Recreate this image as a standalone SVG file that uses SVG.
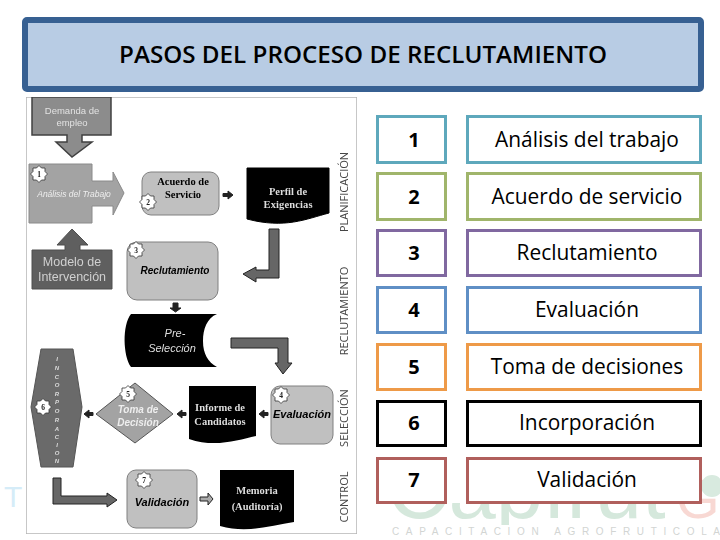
<svg xmlns="http://www.w3.org/2000/svg" width="720" height="540" viewBox="0 0 720 540">
<style>
.s{font-family:"Open Sans","Noto Sans",sans-serif;font-size:20.900px;fill:#000;text-anchor:middle}
.n{font-weight:700;font-size:20px}
.b{fill:#fff;stroke-width:3}
.g{fill:#c0c0c0;stroke:#808080;stroke-width:1}
.d{fill:#8c8c8c;stroke:#404040;stroke-width:1.500}
.m{fill:#5f5f5f;stroke:#505050;stroke-width:1}
.k{fill:#000}
.st{fill:#fff;stroke:#333;stroke-width:.8;stroke-linejoin:round}
.l{font-family:"Liberation Sans",sans-serif;text-anchor:middle}
.t{font-family:"Liberation Serif",serif;font-weight:700;text-anchor:middle;font-size:10.500px}
.v{font-family:"Open Sans",sans-serif;font-size:11px;fill:#444;text-anchor:middle}
.num{font-family:"Liberation Serif",serif;font-weight:700;font-size:7.500px;text-anchor:middle;fill:#222}
</style>
<defs>
<path id="star" d="M8.500 0L6 2.500 6 6 2.500 6 0 8.500-2.500 6-6 6-6 2.500-8.500 0-6-2.500-6-6-2.500-6 0-8.500 2.500-6 6-6 6-2.500Z"/>
<clipPath id="wm"><rect x="370" y="503" width="310" height="22"/></clipPath>
<filter id="soft" x="0" y="0" width="1" height="1"><feGaussianBlur stdDeviation="0.350"/></filter>
</defs>
<rect width="720" height="540" fill="#fff"/>
<g id="watermark">
<text x="4" y="507" font-family="Liberation Sans,sans-serif" font-size="30" fill="#d5ecf8">T</text>
<text x="387" y="518" font-family="Liberation Sans,sans-serif" font-size="85" fill="#d5e8dc" clip-path="url(#wm)">Capfrut</text>
<text x="676" y="518" font-family="Liberation Sans,sans-serif" font-size="56" fill="#f8d8d3">G</text>
<ellipse cx="712" cy="486" rx="11" ry="11" fill="#d8eadf"/>
<text x="392" y="535" font-family="Liberation Sans,sans-serif" font-size="10" textLength="328" fill="#d2d5d3">CAPACITACION AGROFRUTICOLA</text>
</g>
<g id="title">
<rect x="25" y="20" width="676" height="69" rx="2" fill="#b8cce4" stroke="#376092" stroke-width="6"/>
<text x="363" y="63" font-family="Open Sans,sans-serif" font-weight="600" font-size="23.500" text-anchor="middle" textLength="488" lengthAdjust="spacingAndGlyphs">PASOS DEL PROCESO DE RECLUTAMIENTO</text>
</g>
<g id="flowchart" filter="url(#soft)">
<rect x="26" y="97" width="331" height="437" fill="#fff" stroke="#b5b5b5" stroke-width="1.500"/>
<g id="demanda"><path class="d" d="M32 97H111V135H82V142H92L72 157 56 142H67V135H32Z"/>
<text class="l" font-size="9.500" fill="#e2e2e2" x="72" y="114">Demanda de</text><text class="l" font-size="9.500" fill="#e2e2e2" x="72" y="126">empleo</text></g>
<g id="analisis"><path d="M29 164H92V181H113V172L124 193 113 215V206H92V223H29Z" fill="#a3a3a3" stroke="#8a8a8a"/>
<text x="74" y="197" class="l" font-size="8.500" font-style="italic" fill="#eee">Análisis del Trabajo</text>
<use href="#star" class="st" x="39" y="174"/><text class="num" x="39" y="177">1</text></g>
<g id="modelo"><path class="m" d="M32 250H65V245H57L72 229 88 245H80V250H112V289H32Z"/>
<text class="l" font-size="12.500" fill="#d0d0d0" x="72" y="266">Modelo de</text><text class="l" font-size="12.500" fill="#d0d0d0" x="72" y="281">Intervención</text></g>
<g id="acuerdo"><rect class="g" x="142" y="172" width="77" height="43" rx="9"/>
<text class="t" x="183" y="185">Acuerdo de</text><text class="t" x="183" y="198">Servicio</text>
<use href="#star" class="st" x="148" y="202"/><text class="num" x="148" y="205">2</text></g>
<g id="perfil"><path class="k" d="M247 168H329V213C306 219 285 229 247 219Z" stroke="#000"/>
<text class="t" x="288" y="195" fill="#ddd">Perfil de</text><text class="t" x="288" y="208" fill="#ddd" textLength="49">Exigencias</text></g>
<g id="reclutamiento"><rect class="g" x="127" y="242" width="91" height="58" rx="10"/>
<text class="l" x="175" y="274" font-size="10" font-weight="700" font-style="italic">Reclutamiento</text>
<use href="#star" class="st" x="136" y="250"/><text class="num" x="136" y="253">3</text></g>
<g id="preseleccion"><path class="k" d="M131 314H217C207 318 203 329 203 341 203 354 208 362 217 367H131C123 356 122 325 131 314Z"/>
<text class="l" x="175" y="337" font-size="11" font-style="italic" fill="#ddd">Pre-</text><text class="l" x="172" y="352" font-size="11" font-style="italic" fill="#ddd">Selección</text></g>
<g id="evaluacion"><rect class="g" x="271" y="386" width="62" height="58" rx="9"/>
<text class="l" x="302" y="418" font-size="11" font-weight="700" font-style="italic">Evaluación</text>
<use href="#star" class="st" x="281" y="395"/><text class="num" x="281" y="398">4</text></g>
<g id="informe"><path class="k" d="M189 386H256V436C238 440 215 448 189 439Z"/>
<text class="t" x="220" y="411" fill="#ddd">Informe de</text><text class="t" x="220" y="425" fill="#ddd">Candidatos</text></g>
<g id="decision"><path d="M96 414L135 383 173 414 135 443Z" fill="#a3a3a3" stroke="#555"/>
<text class="l" x="138" y="413" font-size="10" font-weight="700" font-style="italic" fill="#eee">Toma de</text><text class="l" x="138" y="426" font-size="10" font-weight="700" font-style="italic" fill="#eee">Decisión</text>
<use href="#star" class="st" x="128" y="394"/><text class="num" x="128" y="397">5</text></g>
<g id="incorporacion"><path d="M41 349H73L82 407 73 467H41L31 407Z" fill="#6a6a6a" stroke="#555"/>
<g class="l" font-size="6" font-weight="700" font-style="italic" fill="#ddd"><text x="57" y="361">I</text><text x="57" y="370">N</text><text x="57" y="379">C</text><text x="57" y="387">O</text><text x="57" y="396">R</text><text x="57" y="404">P</text><text x="57" y="413">O</text><text x="57" y="422">R</text><text x="57" y="431">A</text><text x="57" y="439">C</text><text x="57" y="447">I</text><text x="57" y="455">O</text><text x="57" y="463">N</text></g>
<use href="#star" class="st" x="43" y="407"/><text class="num" x="43" y="410">6</text></g>
<g id="validacion"><rect class="g" x="127" y="470" width="70" height="58" rx="9"/>
<text class="l" x="162" y="506" font-size="11" font-weight="700" font-style="italic">Validación</text>
<use href="#star" class="st" x="144" y="480"/><text class="num" x="144" y="483">7</text></g>
<g id="memoria"><path class="k" d="M220 470H294V522C272 525 248 534 220 526Z"/>
<text class="t" x="257" y="494" fill="#ddd" font-size="9.500">Memoria</text><text class="t" x="257" y="510" fill="#ddd" font-size="9.500">(Auditoría)</text></g>
<g id="connectors" fill="#666" stroke="#222" stroke-width="1">
<path d="M223 193.500H228V191L233 195 228 199V196.500H223Z" fill="#222"/>
<path d="M269 229H279V278H256V282L243 274 256 267V270H269Z"/>
<path d="M173 303H178V308H181L175.500 312 170 308H173Z" fill="#222"/>
<path d="M231 338H288V363H292L283 374 275 363H278V348H231Z"/>
<path d="M268 412.500H264V410L259 414 264 418V415.500H268Z" fill="#222"/>
<path d="M186 412.500H182V410L177 414 182 418V415.500H186Z" fill="#222"/>
<path d="M93 412.500H89V410L84 414 89 418V415.500H93Z" fill="#222"/>
<path d="M53 478H61V496H107V493L117 500 107 507V504H53Z"/>
<path d="M200 497H208V493L213 499 208 505V501H200Z" fill="#aaa"/>
</g>
<g id="phases">
<text class="v" transform="translate(348,192) rotate(-90)">PLANIFICACIÓN</text>
<text class="v" transform="translate(348,311) rotate(-90)">RECLUTAMIENTO</text>
<text class="v" transform="translate(348,418) rotate(-90)">SELECCIÓN</text>
<text class="v" transform="translate(348,497) rotate(-90)">CONTROL</text>
</g>
</g>
<g id="n1"><rect class="b" x="377.500" y="116.500" width="68" height="46" stroke="#5ea8bc"/><text class="s n" x="414" y="147">1</text><rect class="b" x="467.500" y="116.500" width="233" height="46" stroke="#5ea8bc"/><text class="s" x="587" y="147">Análisis del trabajo</text></g>
<g id="n2"><rect class="b" x="377.500" y="173.500" width="68" height="46" stroke="#a0b56b"/><text class="s n" x="414" y="204">2</text><rect class="b" x="467.500" y="173.500" width="233" height="46" stroke="#a0b56b"/><text class="s" x="587" y="204">Acuerdo de servicio</text></g>
<g id="n3"><rect class="b" x="377.500" y="230.500" width="68" height="45" stroke="#8068a0"/><text class="s n" x="414" y="260">3</text><rect class="b" x="467.500" y="230.500" width="233" height="45" stroke="#8068a0"/><text class="s" x="587" y="260">Reclutamiento</text></g>
<g id="n4"><rect class="b" x="377.500" y="287.500" width="68" height="45" stroke="#5f8fc5"/><text class="s n" x="414" y="317">4</text><rect class="b" x="467.500" y="287.500" width="233" height="45" stroke="#5f8fc5"/><text class="s" x="587" y="317">Evaluación</text></g>
<g id="n5"><rect class="b" x="377.500" y="344.500" width="68" height="45" stroke="#ee9a48"/><text class="s n" x="414" y="374">5</text><rect class="b" x="467.500" y="344.500" width="233" height="45" stroke="#ee9a48"/><text class="s" x="587" y="374">Toma de decisiones</text></g>
<g id="n6"><rect class="b" x="377.500" y="401.500" width="68" height="44" stroke="#000"/><text class="s n" x="414" y="430">6</text><rect class="b" x="467.500" y="401.500" width="233" height="44" stroke="#000"/><text class="s" x="587" y="430">Incorporación</text></g>
<g id="n7"><rect class="b" x="377.500" y="458.500" width="68" height="44" stroke="#b05f5c"/><text class="s n" x="414" y="487">7</text><rect class="b" x="467.500" y="458.500" width="233" height="44" stroke="#b05f5c"/><text class="s" x="587" y="487">Validación</text></g>
</svg>
